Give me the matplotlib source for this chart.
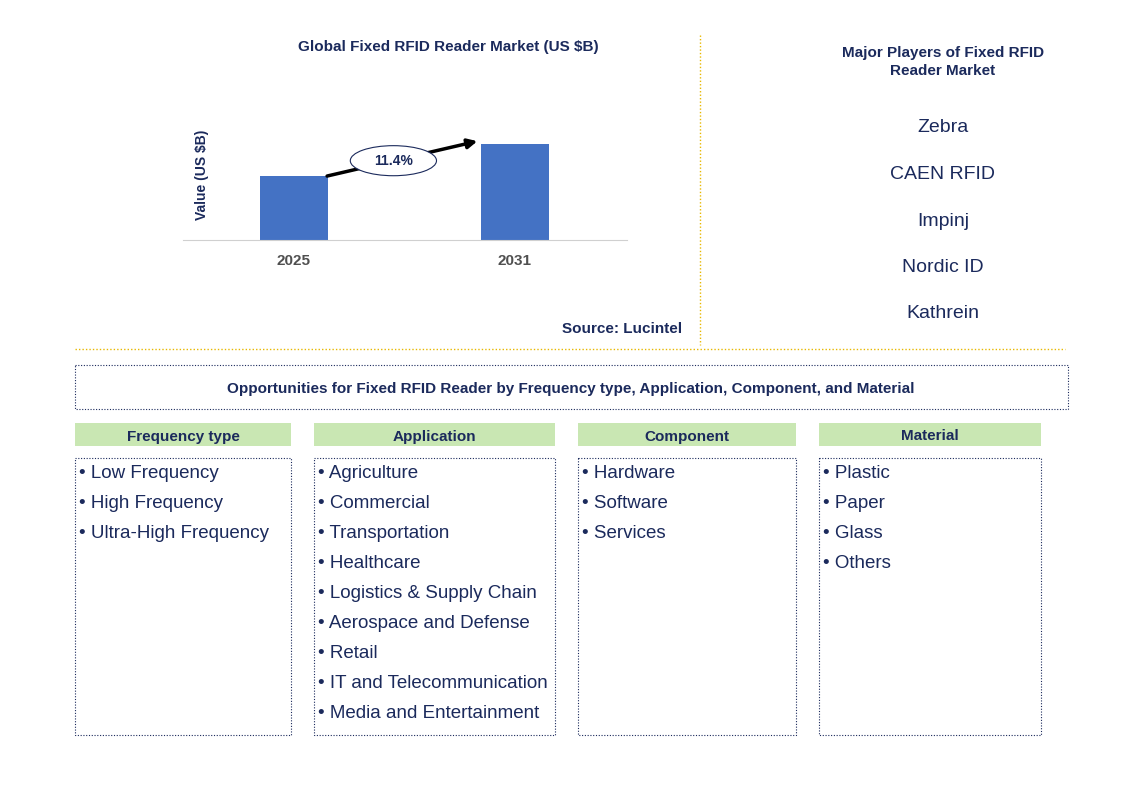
import matplotlib.pyplot as plt
from matplotlib.patches import Rectangle, Ellipse

plt.rcParams['font.family'] = 'Liberation Sans'
navy = '#1b2a5c'

years = ['2025', '2031']
values = [1.0, 1.5]
cagr = '11.4%'
players = ['Zebra', 'CAEN RFID', 'Impinj', 'Nordic ID', 'Kathrein']
headers = ['Frequency type', 'Application', 'Component', 'Material']
segments = [
    ['Low Frequency', 'High Frequency', 'Ultra-High Frequency'],
    ['Agriculture', 'Commercial', 'Transportation', 'Healthcare', 'Logistics & Supply Chain',
     'Aerospace and Defense', 'Retail', 'IT and Telecommunication', 'Media and Entertainment'],
    ['Hardware', 'Software', 'Services'],
    ['Plastic', 'Paper', 'Glass', 'Others'],
]

W, H = 1132, 796
fig = plt.figure(figsize=(W / 100, H / 100), dpi=100)
bg = fig.add_axes([0, 0, 1, 1])
bg.set_xlim(0, W)
bg.set_ylim(H, 0)
bg.axis('off')

# separators
bg.plot([700, 700], [35, 345], color='#e8b800', lw=1, ls=(0, (1, 1.5)))
bg.plot([75, 1065], [349, 349], color='#e8b800', lw=1, ls=(0, (1, 1.5)))

bg.text(448, 47, 'Global Fixed RFID Reader Market (US $B)', ha='center', va='center',
        fontsize=11, fontweight='bold', color=navy)
bg.text(682, 329, 'Source: Lucintel', ha='right', va='center', fontsize=11,
        fontweight='bold', color=navy)
bg.text(943, 62, 'Major Players of Fixed RFID\nReader Market', ha='center', va='center',
        fontsize=11, fontweight='bold', color=navy, linespacing=1.3)
for i, p in enumerate(players):
    bg.text(943, 126 + i * 46.5, p, ha='center', va='center_baseline', fontsize=14, color=navy)

# opportunity banner
bg.add_patch(Rectangle((75, 365), 993, 44, fill=False, ec=navy, lw=0.8, ls=(0, (1, 1.5))))
bg.text(571, 387, 'Opportunities for Fixed RFID Reader by Frequency type, Application, Component, and Material',
        ha='center', va='center_baseline', fontsize=11, fontweight='bold', color=navy)

cols = [(75, 291), (314, 555), (578, 796), (819, 1041)]
for (x0, x1), h, items in zip(cols, headers, segments):
    bg.add_patch(Rectangle((x0, 423), x1 - x0, 23, fc='#c9e7b3', ec='none'))
    bg.text((x0 + x1) / 2, 435, h, ha='center', va='center_baseline', fontsize=11,
            fontweight='bold', color=navy)
    bg.add_patch(Rectangle((x0, 458), x1 - x0, 277, fill=False, ec=navy, lw=0.8,
                           ls=(0, (1, 1.5))))
    for j, it in enumerate(items):
        bg.text(x0 + 4, 472 + j * 30, '\u2022 ' + it, ha='left', va='center_baseline',
                fontsize=13.5, color=navy)

# bar chart
ax = fig.add_axes([183 / W, 1 - 240 / H, 444 / W, 110 / H])
ax.bar(range(len(years)), values, width=0.31, color='#4472c4')
ax.set_xlim(-0.502, 1.507)
ax.set_ylim(0, 1.72)
ax.set_xticks(range(len(years)))
ax.set_xticklabels(years, fontsize=11, fontweight='bold', color='#505050')
ax.tick_params(axis='x', length=0, pad=10)
ax.set_yticks([])
for s in ['top', 'right', 'left']:
    ax.spines[s].set_visible(False)
ax.spines['bottom'].set_color('#d0d0d0')
fig.text(202 / W, 1 - 175 / H, 'Value (US $B)', rotation=90, ha='center', va='center',
         fontsize=10, fontweight='bold', color=navy)

ax.annotate('', xy=(0.83, values[1] * 1.03), xytext=(0.15, values[0]),
            arrowprops=dict(arrowstyle='-|>', color='black', lw=2.5, mutation_scale=14,
                            shrinkA=0, shrinkB=0))
ax.add_patch(Ellipse((0.45, 1.24), 0.39, 0.47, fc='white', ec=navy, lw=0.8, zorder=3))
ax.text(0.45, 1.24, cagr, ha='center', va='center', fontsize=10, fontweight='bold',
        color=navy, zorder=4)

fig.savefig('out.png', dpi=100)
